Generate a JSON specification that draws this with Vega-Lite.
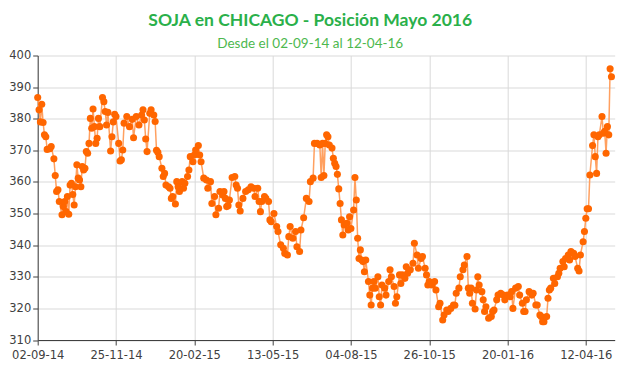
{
  "$schema": "https://vega.github.io/schema/vega-lite/v6.json",
  "width": 577,
  "height": 284.5,
  "autosize": {"type": "none"},
  "padding": {"left": 37.7, "top": 55.5, "right": 5.3, "bottom": 35},
  "background": "white",
  "title": {
    "text": "SOJA en CHICAGO - Posición Mayo 2016",
    "subtitle": "Desde el 02-09-14 al 12-04-16",
    "anchor": "middle",
    "dx": -16,
    "offset": -1,
    "font": "Lato",
    "fontSize": 17.5,
    "fontWeight": "bold",
    "color": "#2ab04a",
    "subtitleFont": "Lato",
    "subtitleFontSize": 13.5,
    "subtitleColor": "#4db84e",
    "subtitlePadding": 8
  },
  "data": {
    "values": [
      {"i":0,"v":386.7},{"i":1,"v":382.8},{"i":2,"v":379},{"i":3,"v":384.6},{"i":4,"v":378.8},{"i":5,"v":374.9},{"i":6,"v":374.3},{"i":7,"v":370.3},{"i":9,"v":370.5},{"i":10,"v":371.2},
      {"i":12,"v":367.3},{"i":13,"v":362},{"i":14,"v":357},{"i":15,"v":357.5},{"i":16,"v":353.8},{"i":18,"v":349.6},{"i":19,"v":352.2},{"i":20,"v":353.8},{"i":21,"v":350.6},{"i":22,"v":355.4},
      {"i":23,"v":349.8},{"i":24,"v":359},{"i":25,"v":359.6},{"i":26,"v":356},{"i":27,"v":352.7},{"i":28,"v":358.5},{"i":29,"v":365.4},{"i":30,"v":361.2},{"i":31,"v":360.6},{"i":32,"v":358.5},
      {"i":33,"v":364.9},{"i":34,"v":363.8},{"i":35,"v":364.3},{"i":36,"v":369.6},{"i":37,"v":369.1},{"i":38,"v":372.2},{"i":39,"v":380.1},{"i":40,"v":377},{"i":41,"v":383.1},{"i":42,"v":377.5},
      {"i":43,"v":372.2},{"i":44,"v":373.8},{"i":45,"v":380.1},{"i":46,"v":377.5},{"i":48,"v":386.7},{"i":49,"v":385.4},{"i":50,"v":382.3},{"i":51,"v":378},{"i":52,"v":382},{"i":54,"v":369.8},
      {"i":55,"v":374.3},{"i":56,"v":379},{"i":57,"v":381.4},{"i":58,"v":380.7},{"i":60,"v":372.2},{"i":61,"v":366.6},{"i":62,"v":367},{"i":63,"v":370.1},{"i":64,"v":378.6},{"i":66,"v":380.7},
      {"i":68,"v":377.5},{"i":70,"v":379.8},{"i":71,"v":374},{"i":73,"v":380.7},{"i":75,"v":378},{"i":77,"v":381.2},{"i":78,"v":382.8},{"i":79,"v":379.6},{"i":80,"v":373.6},{"i":81,"v":369.6},
      {"i":83,"v":381.7},{"i":84,"v":382.8},{"i":86,"v":381.2},{"i":87,"v":379.1},{"i":88,"v":370},{"i":89,"v":369.4},{"i":90,"v":368},{"i":92,"v":364.3},{"i":93,"v":361.7},{"i":94,"v":362.7},
      {"i":95,"v":359},{"i":97,"v":358.5},{"i":98,"v":358},{"i":99,"v":354.8},{"i":100,"v":355.4},{"i":102,"v":353},{"i":103,"v":360.1},{"i":104,"v":358.5},{"i":105,"v":357},{"i":107,"v":360.1},
      {"i":108,"v":358},{"i":109,"v":359.6},{"i":111,"v":361.7},{"i":112,"v":363.8},{"i":113,"v":368},{"i":115,"v":366.4},{"i":116,"v":368.5},{"i":117,"v":370.1},{"i":119,"v":371.5},{"i":120,"v":368.5},
      {"i":121,"v":366.4},{"i":123,"v":361.2},{"i":125,"v":360.6},{"i":126,"v":358},{"i":128,"v":360.1},{"i":129,"v":353.2},{"i":131,"v":355.4},{"i":132,"v":349.6},{"i":134,"v":351.7},{"i":135,"v":357},
      {"i":137,"v":355.9},{"i":138,"v":357},{"i":139,"v":354.8},{"i":140,"v":352.2},{"i":141,"v":352.5},{"i":142,"v":354.3},{"i":144,"v":361.4},{"i":146,"v":361.7},{"i":147,"v":359},{"i":148,"v":358},
      {"i":149,"v":352.7},{"i":150,"v":350.8},{"i":152,"v":354.8},{"i":154,"v":357},{"i":156,"v":357.5},{"i":158,"v":358.5},{"i":160,"v":358},{"i":161,"v":355.4},{"i":163,"v":358},{"i":164,"v":353.8},
      {"i":165,"v":350.6},{"i":166,"v":353.8},{"i":168,"v":355.4},{"i":169,"v":354.8},{"i":171,"v":353.8},{"i":172,"v":348},{"i":173,"v":347.4},{"i":175,"v":350},{"i":177,"v":345.9},{"i":178,"v":344.3},
      {"i":180,"v":340.1},{"i":182,"v":339},{"i":183,"v":337.4},{"i":185,"v":336.9},{"i":186,"v":342.7},{"i":187,"v":345.9},{"i":189,"v":342.2},{"i":191,"v":344.3},{"i":192,"v":339.5},{"i":194,"v":338},
      {"i":195,"v":344.8},{"i":197,"v":348.7},{"i":199,"v":354.8},{"i":201,"v":353.8},{"i":202,"v":360.1},{"i":204,"v":361.2},{"i":205,"v":372.2},{"i":207,"v":372.2},{"i":209,"v":371.7},{"i":210,"v":361.4},
      {"i":211,"v":372.2},{"i":212,"v":362},{"i":213,"v":372.2},{"i":214,"v":374.9},{"i":215,"v":374.3},{"i":216,"v":371.7},{"i":218,"v":370.7},{"i":219,"v":367.5},{"i":220,"v":365.9},{"i":221,"v":364.9},
      {"i":222,"v":362.4},{"i":223,"v":357.8},{"i":224,"v":353.2},{"i":225,"v":348},{"i":226,"v":343.2},{"i":227,"v":346.4},{"i":229,"v":346.9},{"i":230,"v":344.8},{"i":231,"v":349},{"i":232,"v":345.3},
      {"i":234,"v":351.1},{"i":235,"v":361.4},{"i":236,"v":354.3},{"i":237,"v":342.2},{"i":238,"v":335.8},{"i":239,"v":338.5},{"i":240,"v":335.3},{"i":241,"v":334.8},{"i":242,"v":331.6},{"i":243,"v":335.3},
      {"i":245,"v":328.5},{"i":246,"v":324.2},{"i":247,"v":321.1},{"i":248,"v":326.4},{"i":249,"v":328.5},{"i":250,"v":326.4},{"i":252,"v":330},{"i":253,"v":323.7},{"i":254,"v":321.1},{"i":255,"v":327.4},
      {"i":257,"v":326.4},{"i":258,"v":324.2},{"i":260,"v":328.5},{"i":261,"v":332.2},{"i":262,"v":330},{"i":264,"v":326.9},{"i":265,"v":321.6},{"i":266,"v":323.7},{"i":268,"v":330.6},{"i":269,"v":327.9},
      {"i":270,"v":330.6},{"i":272,"v":329.5},{"i":273,"v":333.2},{"i":274,"v":331.1},{"i":276,"v":332.2},{"i":278,"v":334.3},{"i":279,"v":340.6},{"i":281,"v":336.9},{"i":282,"v":332.7},{"i":284,"v":335.8},
      {"i":285,"v":336.4},{"i":287,"v":332.7},{"i":288,"v":330.6},{"i":289,"v":327.4},{"i":290,"v":328.5},{"i":292,"v":327.4},{"i":294,"v":328.5},{"i":295,"v":325.8},{"i":297,"v":320.5},{"i":298,"v":321.6},
      {"i":300,"v":316.3},{"i":301,"v":317.9},{"i":303,"v":319.5},{"i":304,"v":319},{"i":306,"v":320},{"i":308,"v":321.1},{"i":309,"v":321},{"i":310,"v":324.8},{"i":312,"v":326.4},{"i":313,"v":330},
      {"i":315,"v":332.2},{"i":316,"v":333.7},{"i":318,"v":336.4},{"i":319,"v":326.4},{"i":320,"v":324.8},{"i":321,"v":326.4},{"i":322,"v":321.6},{"i":324,"v":319.8},{"i":325,"v":325.8},{"i":326,"v":330},
      {"i":327,"v":327.4},{"i":329,"v":325.3},{"i":330,"v":322.7},{"i":331,"v":319},{"i":332,"v":320.5},{"i":334,"v":316.9},{"i":336,"v":317.4},{"i":337,"v":319},{"i":338,"v":319.5},{"i":340,"v":322.7},
      {"i":341,"v":324.2},{"i":343,"v":324.8},{"i":345,"v":324.2},{"i":346,"v":322.7},{"i":348,"v":324.2},{"i":350,"v":323.7},{"i":351,"v":325.3},{"i":352,"v":320},{"i":354,"v":326.4},{"i":356,"v":326.9},
      {"i":357,"v":324.2},{"i":359,"v":321.6},{"i":360,"v":319},{"i":361,"v":319},{"i":362,"v":322.7},{"i":364,"v":325.3},{"i":366,"v":324.2},{"i":367,"v":324.8},{"i":369,"v":321.1},{"i":370,"v":321.1},
      {"i":372,"v":317.9},{"i":373,"v":317.4},{"i":374,"v":315.8},{"i":375,"v":315.8},{"i":377,"v":317.4},{"i":378,"v":323.2},{"i":379,"v":325.8},{"i":380,"v":326.4},{"i":382,"v":329.5},{"i":383,"v":327.9},
      {"i":385,"v":330},{"i":386,"v":331.1},{"i":387,"v":332.7},{"i":389,"v":334.8},{"i":390,"v":333.2},{"i":391,"v":335.8},{"i":393,"v":336.9},{"i":394,"v":335.3},{"i":395,"v":338},{"i":397,"v":337.4},
      {"i":398,"v":336.4},{"i":400,"v":332.7},{"i":401,"v":331.8},{"i":402,"v":336.9},{"i":404,"v":341.1},{"i":405,"v":344.3},{"i":406,"v":348.5},{"i":407,"v":351.5},{"i":408,"v":351.5},{"i":409,"v":362.2},
      {"i":411,"v":371.5},{"i":412,"v":374.9},{"i":413,"v":368},{"i":414,"v":362.7},{"i":415,"v":374.3},{"i":416,"v":374.9},{"i":418,"v":380.7},{"i":419,"v":375.4},{"i":420,"v":376},{"i":421,"v":369.1},
      {"i":422,"v":377.5},{"i":423,"v":374.9},{"i":424,"v":395.8},{"i":425,"v":393.3}
    ]
  },
  "encoding": {
    "x": {
      "field": "i",
      "type": "quantitative",
      "scale": {"domain": [0, 427.4], "nice": false, "zero": false},
      "axis": {
        "title": null,
        "values": [0, 58, 116, 174, 232, 290, 348, 406],
        "labelExpr": "['02-09-14','25-11-14','20-02-15','13-05-15','04-08-15','26-10-15','20-01-16','12-04-16'][round(datum.value/58)]",
        "grid": true,
        "gridColor": "#d9d9d9",
        "domainColor": "#404040",
        "tickColor": "#404040",
        "tickSize": 5,
        "labelFont": "DejaVu Sans",
        "labelFontSize": 11.5,
        "labelColor": "#404040",
        "labelPadding": 4,
        "labelFlush": false
      }
    },
    "y": {
      "field": "v",
      "type": "quantitative",
      "scale": {"domain": [310, 400], "nice": false, "zero": false},
      "axis": {
        "title": null,
        "values": [310, 320, 330, 340, 350, 360, 370, 380, 390, 400],
        "grid": true,
        "gridColor": "#d9d9d9",
        "domainColor": "#404040",
        "tickColor": "#404040",
        "tickSize": 5,
        "labelFont": "DejaVu Sans",
        "labelFontSize": 11.5,
        "labelColor": "#404040",
        "labelPadding": 2
      }
    }
  },
  "layer": [
    {"mark": {"type": "line", "color": "#ffa060", "strokeWidth": 1.5}},
    {"mark": {"type": "circle", "color": "#ff6600", "size": 50, "opacity": 1}}
  ],
  "config": {"view": {"stroke": null}}
}
